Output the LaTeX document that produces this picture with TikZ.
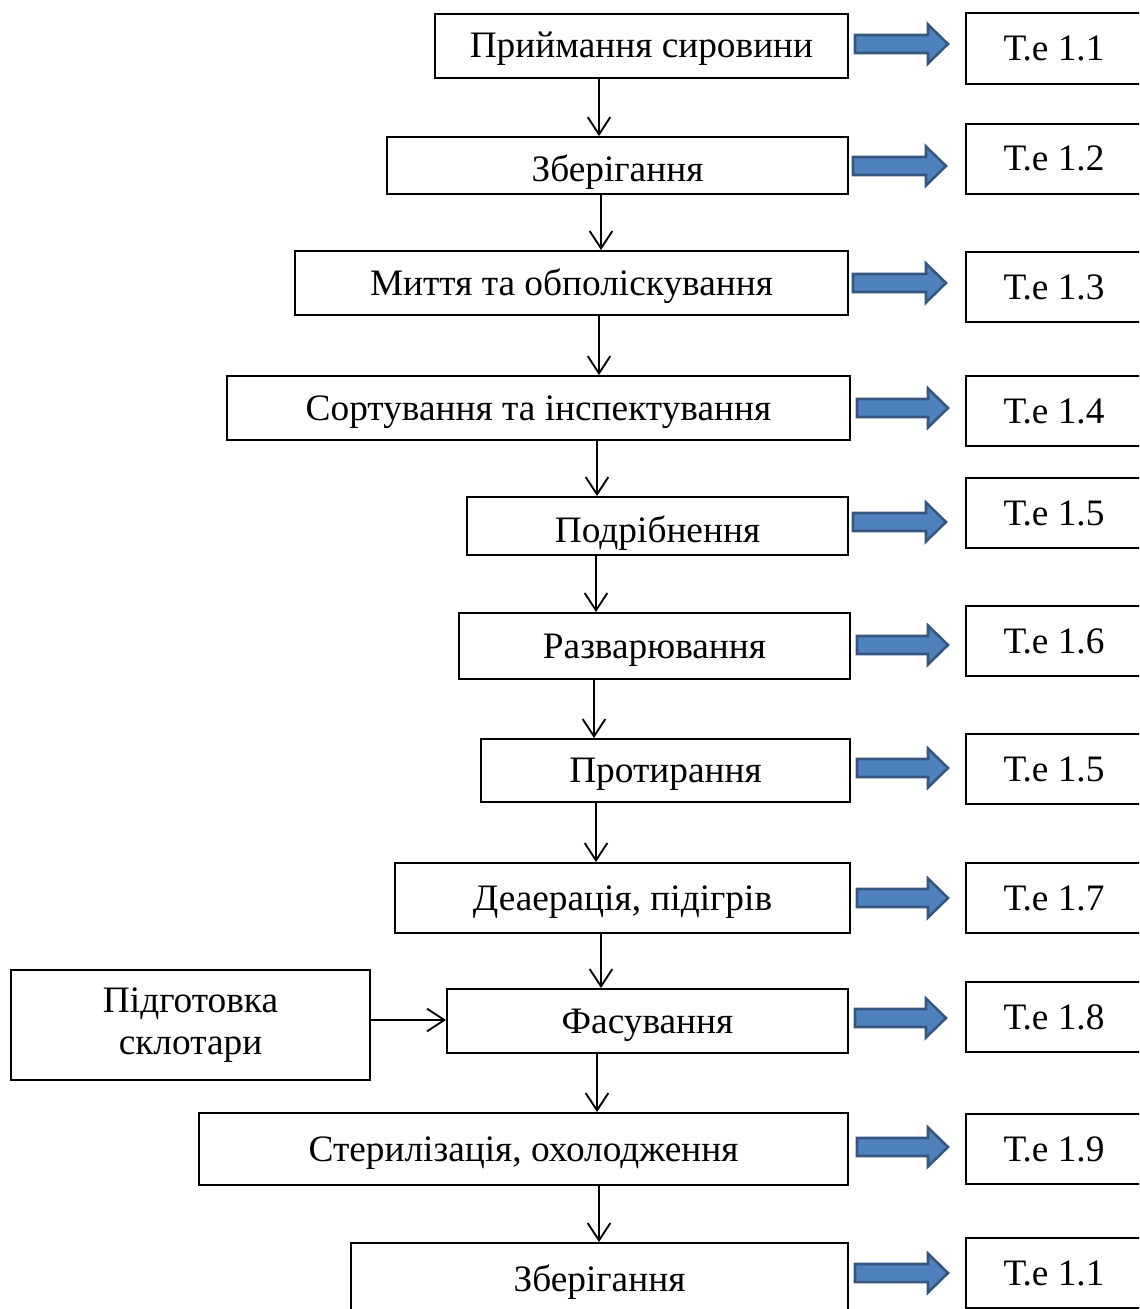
\documentclass[tikz,border=0pt]{standalone}
\usepackage{fontspec}
\setmainfont{Liberation Serif}
\usetikzlibrary{arrows.meta}
\definecolor{arrfill}{HTML}{4F81BD}
\definecolor{arredge}{HTML}{35577F}
% block arrow: start x, tip x, centre y
\newcommand\fatarrow[3]{%
  \draw[fat] (#1,#3-9) -- (#2-20,#3-9) -- (#2-20,#3-19.5) -- (#2,#3)
    -- (#2-20,#3+19.5) -- (#2-20,#3+9) -- (#1,#3+9) -- cycle;}
\begin{document}
\begin{tikzpicture}[x=0.75pt,y=-0.75pt,
  every node/.style={font=\fontsize{28}{32}\selectfont},
  bx/.style n args={2}{draw, line width=1.4pt, inner sep=0pt,
    text height=18pt, text depth=0pt,
    minimum width=#1*0.75pt, minimum height=#2*0.75pt},
  low/.style={text height=24pt},
  conn/.style={line width=1.4pt, -{Straight Barb[length=13pt,width=17pt,line width=1.4pt]}},
  fat/.style={fill=arrfill, draw=arredge, line width=1.9pt, line join=miter}]
\useasboundingbox (0,0) rectangle (1139,1309);
\clip (0,0) rectangle (1139,1309);

% process steps
\node[bx={413}{64}] (m1) at (641.5,46) {Приймання сировини};
\node[bx={461}{57}, low] (m2) at (617.5,165.5) {Зберігання};
\node[bx={553}{64}] (m3) at (571.5,283) {Миття та обполіскування};
\node[bx={623}{64}] (m4) at (538.5,408) {Сортування та інспектування};
\node[bx={381}{58}, low] (m5) at (657.5,526) {Подрібнення};
\node[bx={391}{66}] (m6) at (654.5,646) {Разварювання};
\node[bx={369}{63}] (m7) at (665.5,770.5) {Протирання};
\node[bx={455}{70}] (m8) at (622.5,898) {Деаерація, підігрів};
\node[bx={401}{64}] (m9) at (647.5,1021) {Фасування};
\node[bx={649}{72}] (m10) at (523.5,1149) {Стерилізація, охолодження};
\node[bx={497}{72}] (m11) at (599.5,1279) {Зберігання};

% side input
\node[bx={359}{110}, align=center, text height=, text depth=,
  font=\fontsize{28}{32}\selectfont] (s) at (190.5,1025) {Підготовка\\склотари};

% equipment references
\node[bx={176}{71}] (r1) at (1054,48.5) {Т.е 1.1};
\node[bx={176}{70}] (r2) at (1054,159) {Т.е 1.2};
\node[bx={176}{70}] (r3) at (1054,287) {Т.е 1.3};
\node[bx={176}{70}] (r4) at (1054,411) {Т.е 1.4};
\node[bx={176}{70}] (r5) at (1054,513) {Т.е 1.5};
\node[bx={176}{70}] (r6) at (1054,641) {Т.е 1.6};
\node[bx={176}{70}] (r7) at (1054,769) {Т.е 1.5};
\node[bx={176}{70}] (r8) at (1054,898) {Т.е 1.7};
\node[bx={176}{70}] (r9) at (1054,1017) {Т.е 1.8};
\node[bx={176}{70}] (r10) at (1054,1149) {Т.е 1.9};
\node[bx={176}{70}] (r11) at (1054,1273) {Т.е 1.1};

% flow between steps
\draw[conn] (599,0 |- m1.south) -- (599,0 |- m2.north);
\draw[conn] (601,0 |- m2.south) -- (601,0 |- m3.north);
\draw[conn] (599,0 |- m3.south) -- (599,0 |- m4.north);
\draw[conn] (597,0 |- m4.south) -- (597,0 |- m5.north);
\draw[conn] (596,0 |- m5.south) -- (596,0 |- m6.north);
\draw[conn] (594,0 |- m6.south) -- (594,0 |- m7.north);
\draw[conn] (596,0 |- m7.south) -- (596,0 |- m8.north);
\draw[conn] (601,0 |- m8.south) -- (601,0 |- m9.north);
\draw[conn] (597,0 |- m9.south) -- (597,0 |- m10.north);
\draw[conn] (599,0 |- m10.south) -- (599,0 |- m11.north);
\draw[conn] (s.east |- 0,1020) -- (m9.west |- 0,1020);

% block arrows to equipment
\fatarrow{855}{948}{44}
\fatarrow{853}{946}{166}
\fatarrow{853}{946}{283}
\fatarrow{857}{948}{408}
\fatarrow{853}{946}{522}
\fatarrow{857}{948}{645}
\fatarrow{857}{948}{768}
\fatarrow{857}{948}{898}
\fatarrow{855}{946}{1018}
\fatarrow{857}{948}{1147}
\fatarrow{855}{948}{1273}
\end{tikzpicture}
\end{document}
